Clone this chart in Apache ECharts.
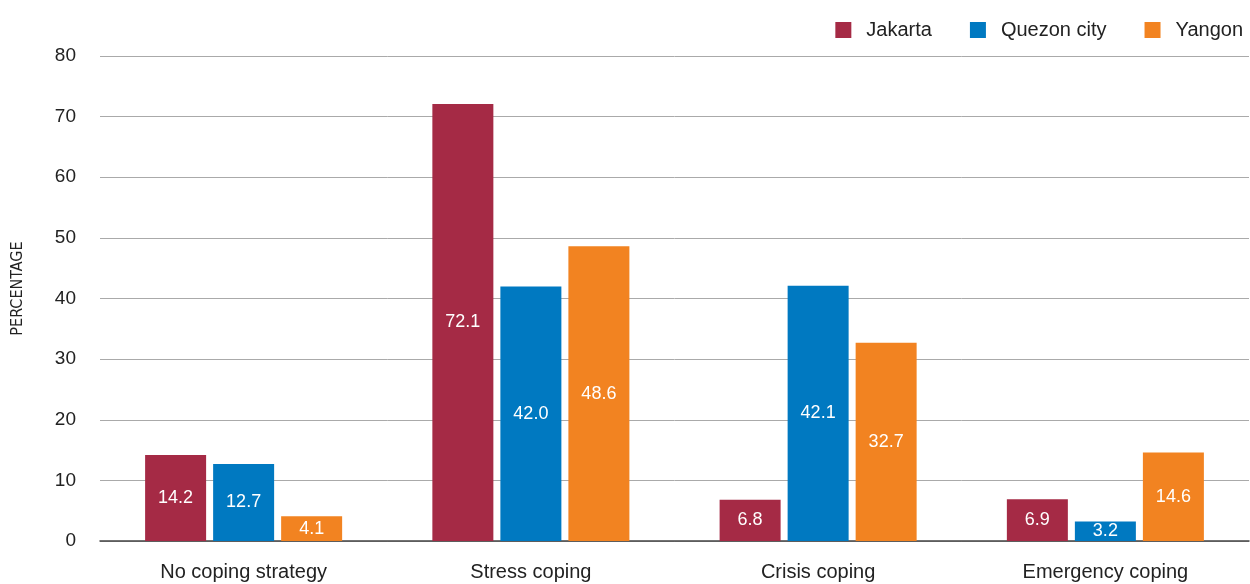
<!DOCTYPE html>
<html><head><meta charset="utf-8">
<script src="https://cdn.jsdelivr.net/npm/echarts@6/dist/echarts.min.js"></script>
<style>html,body{margin:0;padding:0;background:#fff}#c{width:1250px;height:584px}</style>
</head><body><div id="c"></div>
<script>
const categories = ['No coping strategy', 'Stress coping', 'Crisis coping', 'Emergency coping'];
const seriesNames = ['Jakarta', 'Quezon city', 'Yangon'];
const jakarta = [14.2, 72.1, 6.8, 6.9];
const quezon = [12.7, 42.0, 42.1, 3.2];
const yangon = [4.1, 48.6, 32.7, 14.6];
const yTicks = [0, 10, 20, 30, 40, 50, 60, 70, 80];
const colors = ['#a52a45', '#0079c1', '#f28321'];

const font = "'Liberation Sans', Arial, sans-serif";
const chart = echarts.init(document.getElementById('c'));
const mk = (name, data, color) => ({
  name, type: 'bar', data, barWidth: 61, barGap: '11.5%',
  itemStyle: { color },
  label: { show: true, position: 'inside', color: '#fff', fontSize: 18, fontFamily: font,
    formatter: p => p.value.toFixed(1) }
});
chart.setOption({
  animation: false,
  color: colors,
  legend: {
    right: 2, top: 15, itemWidth: 16, itemHeight: 16, itemGap: 38,
    icon: 'rect',
    textStyle: { fontSize: 20, color: '#222', fontFamily: font, padding: [0, 0, 0, 10] },
    data: seriesNames
  },
  grid: { left: 100, right: 1, top: 56, bottom: 43 },
  xAxis: {
    type: 'category', data: categories,
    axisLine: { lineStyle: { color: '#444', width: 1.5 } },
    axisTick: { show: false },
    axisLabel: { fontSize: 20, color: '#222', margin: 21, fontFamily: font }
  },
  yAxis: {
    type: 'value', min: yTicks[0], max: yTicks[yTicks.length - 1], interval: 10,
    name: 'PERCENTAGE', nameLocation: 'middle', nameGap: 74,
    nameTextStyle: { fontSize: 16, color: '#222', padding: [0, 0, 0, 20],
      fontFamily: "'Liberation Sans Narrow', 'DejaVu Sans Condensed', sans-serif" },
    axisLine: { show: false }, axisTick: { show: false },
    axisLabel: { fontSize: 19, color: '#222', margin: 24, fontFamily: font },
    splitLine: { lineStyle: { color: '#aaa', width: 1 } }
  },
  series: [mk(seriesNames[0], jakarta, colors[0]), mk(seriesNames[1], quezon, colors[1]), mk(seriesNames[2], yangon, colors[2])]
});
</script></body></html>
